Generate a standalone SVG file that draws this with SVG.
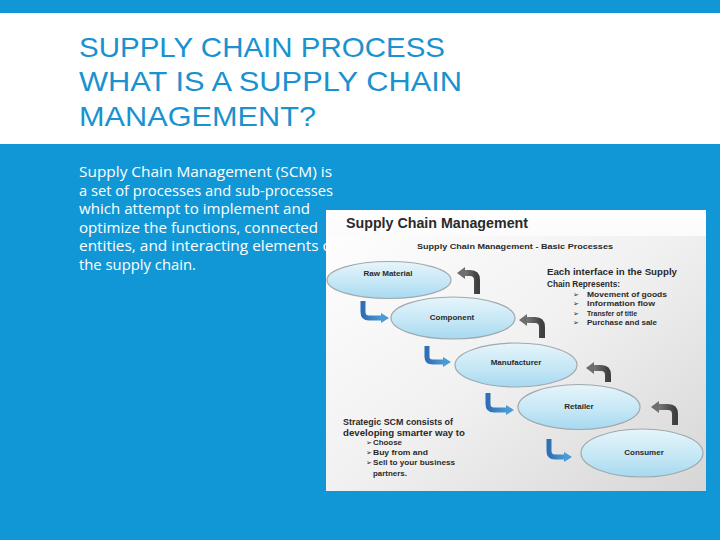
<svg xmlns="http://www.w3.org/2000/svg" width="720" height="540" viewBox="0 0 720 540">
<defs>
<style>
.title{font-family:"Liberation Sans","DejaVu Sans",sans-serif;font-size:28px;fill:#1a92cf;}
.body{font-family:"Open Sans","Liberation Sans",sans-serif;font-size:14.5px;fill:#ffffff;}
.it{font-family:"Liberation Sans","DejaVu Sans",sans-serif;font-weight:bold;fill:#2a2a2a;}
.nl{font-family:"Liberation Sans","DejaVu Sans",sans-serif;font-weight:bold;font-size:8px;fill:#2a2a2a;text-anchor:middle;}
.ell{fill:url(#eg);stroke:#a0a8ad;stroke-width:1.2;}
.blue{fill:none;stroke:url(#bg);stroke-width:5;stroke-linejoin:round;}
.gray{fill:none;stroke:url(#gg);stroke-width:6;stroke-linejoin:round;}
</style>
<linearGradient id="img" x1="0" y1="0" x2="1" y2="1">
<stop offset="0" stop-color="#ffffff"/>
<stop offset="0.5" stop-color="#f1f1f1"/>
<stop offset="1" stop-color="#d6d6d6"/>
</linearGradient>
<linearGradient id="hd" x1="0" y1="0" x2="0" y2="1">
<stop offset="0" stop-color="#ffffff"/>
<stop offset="1" stop-color="#fbfbfb"/>
</linearGradient>
<linearGradient id="eg" x1="0" y1="0" x2="0" y2="1">
<stop offset="0" stop-color="#e6f5fb"/>
<stop offset="0.6" stop-color="#c3e6f5"/>
<stop offset="1" stop-color="#a6d9f0"/>
</linearGradient>
<linearGradient id="bg" x1="0" y1="0" x2="1" y2="0">
<stop offset="0" stop-color="#2f6fb5"/>
<stop offset="1" stop-color="#4a9ad6"/>
</linearGradient>
<linearGradient id="gg" x1="0" y1="0" x2="1" y2="0">
<stop offset="0" stop-color="#7a7a7a"/>
<stop offset="1" stop-color="#3f3f3f"/>
</linearGradient>
<marker id="bh" markerUnits="userSpaceOnUse" markerWidth="10" markerHeight="12" refX="1" refY="6" orient="auto">
<path d="M0,1 L8,6 L0,11 Z" fill="#4a9ad6"/>
</marker>
<marker id="gh" markerUnits="userSpaceOnUse" markerWidth="10" markerHeight="14" refX="1" refY="7" orient="auto">
<path d="M0,1 L8,7 L0,13 Z" fill="#6e6e6e"/>
</marker>
</defs>

<rect width="720" height="540" fill="#1297d6"/>
<rect x="0" y="13" width="720" height="131" fill="#ffffff"/>

<g id="title">
<text class="title" x="79" y="57" textLength="366" lengthAdjust="spacingAndGlyphs">SUPPLY CHAIN PROCESS</text>
<text class="title" x="79" y="91" textLength="383" lengthAdjust="spacingAndGlyphs">WHAT IS A SUPPLY CHAIN</text>
<text class="title" x="79" y="126" textLength="237" lengthAdjust="spacingAndGlyphs">MANAGEMENT?</text>
</g>

<g id="body-text">
<text class="body" x="79" y="177" textLength="253" lengthAdjust="spacingAndGlyphs">Supply Chain Management (SCM) is</text>
<text class="body" x="79" y="195.5" textLength="254" lengthAdjust="spacingAndGlyphs">a set of processes and sub-processes</text>
<text class="body" x="79" y="214" textLength="231" lengthAdjust="spacingAndGlyphs">which attempt to implement and</text>
<text class="body" x="79" y="232.5" textLength="239" lengthAdjust="spacingAndGlyphs">optimize the functions, connected</text>
<text class="body" x="79" y="251" textLength="258" lengthAdjust="spacingAndGlyphs">entities, and interacting elements of</text>
<text class="body" x="79" y="269.5" textLength="117" lengthAdjust="spacingAndGlyphs">the supply chain.</text>
</g>

<g id="picture">
<rect x="326" y="210" width="380" height="281" fill="url(#img)"/>
<rect x="326" y="210" width="380" height="26" fill="url(#hd)"/>
<text class="it" x="346" y="228" font-size="14" textLength="182" lengthAdjust="spacingAndGlyphs">Supply Chain Management</text>
<text class="it" x="417" y="249" font-size="8" textLength="196" lengthAdjust="spacingAndGlyphs">Supply Chain Management - Basic Processes</text>
</g>

<g id="connectors">
<path class="blue" d="M363,301 L363,312 Q363,318 369,318 L382,318" marker-end="url(#bh)"/>
<path class="blue" d="M427,346 L427,357 Q427,362 433,362 L444,362" marker-end="url(#bh)"/>
<path class="blue" d="M488,393 L488,404 Q488,410 494,410 L507,410" marker-end="url(#bh)"/>
<path class="blue" d="M549,439 L549,451 Q549,457 555,457 L565,457" marker-end="url(#bh)"/>
<path class="gray" d="M477,294 L477,280 Q477,273 470,273 L464,273" marker-end="url(#gh)"/>
<path class="gray" d="M542,338 L542,327 Q542,320 535,320 L526,320" marker-end="url(#gh)"/>
<path class="gray" d="M608,382 L608,375 Q608,368 601,368 L593,368" marker-end="url(#gh)"/>
<path class="gray" d="M675,425 L675,414 Q675,407 668,407 L658,407" marker-end="url(#gh)"/>
</g>

<g id="raw-material">
<ellipse class="ell" cx="389" cy="280" rx="62" ry="18.5"/>
<text class="nl" x="388" y="276">Raw Material</text>
</g>
<g id="component">
<ellipse class="ell" cx="453" cy="318" rx="62" ry="21"/>
<text class="nl" x="452" y="320">Component</text>
</g>
<g id="manufacturer">
<ellipse class="ell" cx="516" cy="365" rx="61" ry="22"/>
<text class="nl" x="516" y="365">Manufacturer</text>
</g>
<g id="retailer">
<ellipse class="ell" cx="579" cy="407" rx="61" ry="22.5"/>
<text class="nl" x="579" y="409">Retailer</text>
</g>
<g id="consumer">
<ellipse class="ell" cx="642" cy="453" rx="61" ry="24"/>
<text class="nl" x="644" y="455">Consumer</text>
</g>

<g id="interface-note">
<text class="it" x="547" y="275" font-size="8.5" textLength="130" lengthAdjust="spacingAndGlyphs">Each interface in the Supply</text>
<text class="it" x="547" y="287" font-size="8.5" textLength="73" lengthAdjust="spacingAndGlyphs">Chain Represents:</text>
<text class="it" x="573" y="297" font-size="7">➢</text>
<text class="it" x="587" y="297" font-size="7.5" textLength="80" lengthAdjust="spacingAndGlyphs">Movement of goods</text>
<text class="it" x="573" y="306" font-size="7">➢</text>
<text class="it" x="587" y="306" font-size="7.5" textLength="68" lengthAdjust="spacingAndGlyphs">Information flow</text>
<text class="it" x="573" y="315.5" font-size="7">➢</text>
<text class="it" x="587" y="315.5" font-size="7.5" textLength="50" lengthAdjust="spacingAndGlyphs">Transfer of title</text>
<text class="it" x="573" y="325" font-size="7">➢</text>
<text class="it" x="587" y="325" font-size="7.5" textLength="70" lengthAdjust="spacingAndGlyphs">Purchase and sale</text>
</g>

<g id="strategic-note">
<text class="it" x="343" y="425" font-size="8.5" textLength="110" lengthAdjust="spacingAndGlyphs">Strategic SCM consists of</text>
<text class="it" x="343" y="436" font-size="8.5" textLength="122" lengthAdjust="spacingAndGlyphs">developing smarter way to</text>
<text class="it" x="366" y="445" font-size="7">➢</text>
<text class="it" x="373" y="445" font-size="7.5" textLength="29" lengthAdjust="spacingAndGlyphs">Choose</text>
<text class="it" x="366" y="455" font-size="7">➢</text>
<text class="it" x="373" y="455" font-size="7.5" textLength="55" lengthAdjust="spacingAndGlyphs">Buy from and</text>
<text class="it" x="366" y="465" font-size="7">➢</text>
<text class="it" x="373" y="465" font-size="7.5" textLength="82" lengthAdjust="spacingAndGlyphs">Sell to your business</text>
<text class="it" x="373" y="476" font-size="7.5" textLength="34" lengthAdjust="spacingAndGlyphs">partners.</text>
</g>
</svg>
